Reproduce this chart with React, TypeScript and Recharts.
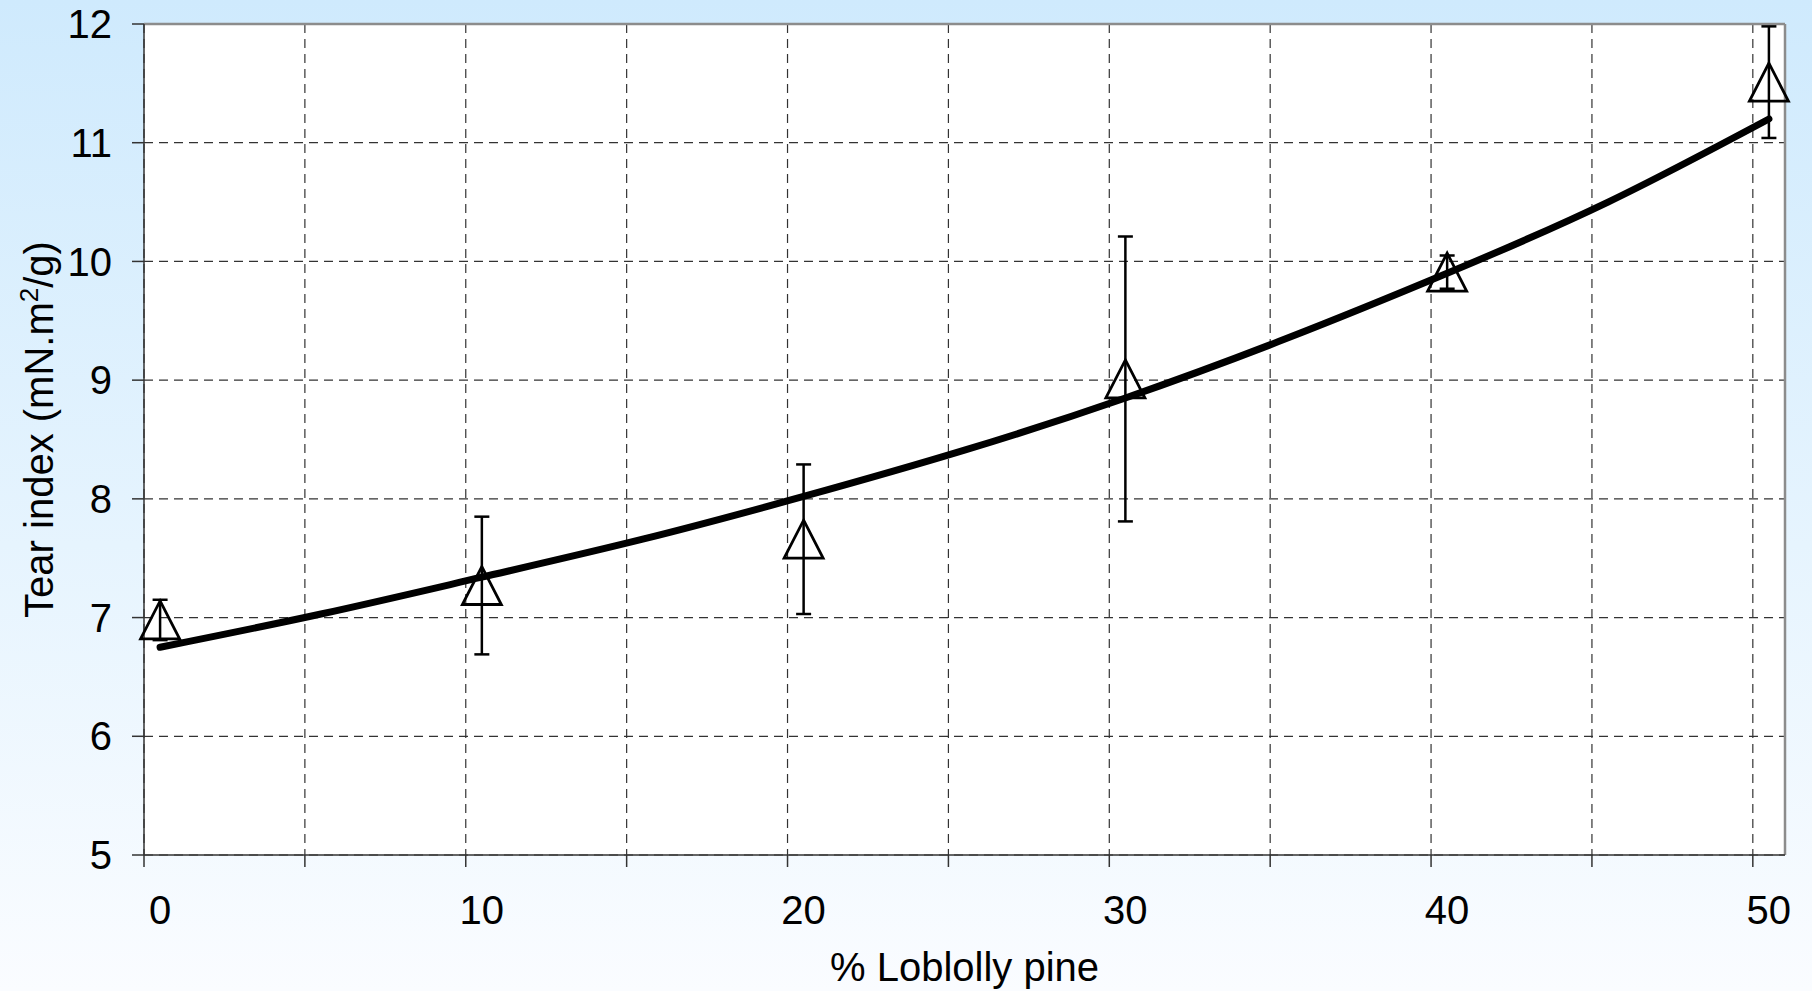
import {
  ComposedChart,
  Line,
  Scatter,
  ErrorBar,
  XAxis,
  YAxis,
  CartesianGrid,
  ReferenceLine,
} from "recharts";

// blend ratio (% loblolly pine) for each measured sheet set
const blendPct = [0, 10, 20, 30, 40, 50];
// mean tear index and standard deviation, mN.m2/g
const tearMean = [6.98, 7.27, 7.66, 9.01, 9.91, 11.51];
const tearSd = [0.17, 0.58, 0.63, 1.2, 0.14, 0.47];

// trend line through the means
const fitPct = [0, 5, 10, 15, 20, 25, 30, 35, 40, 45, 50];
const fitTear = [6.75, 7.03, 7.34, 7.66, 8.02, 8.41, 8.85, 9.35, 9.9, 10.5, 11.2];

// gridlines sit half a step before the blend values
const xGridTicks = [-0.5, 4.5, 9.5, 14.5, 19.5, 24.5, 29.5, 34.5, 39.5, 44.5, 49.5];
const yTicks = [5, 6, 7, 8, 9, 10, 11, 12];

const points = blendPct.map((x, i) => ({ x, tear: tearMean[i], sd: tearSd[i] }));
const trend = fitPct.map((x, i) => ({ x, fit: fitTear[i] }));

const FONT = "'Liberation Sans', Arial, Helvetica, sans-serif";
const HALF_STEP = 16;

const Triangle = (props: any) => {
  const { cx, cy } = props;
  if (cx == null || cy == null) return <g />;
  return (
    <path
      d={`M${cx},${cy - 19} L${cx + 19.5},${cy + 19} L${cx - 19.5},${cy + 19} Z`}
      fill="none"
      stroke="#000"
      strokeWidth={2.8}
      strokeLinejoin="miter"
    />
  );
};

const XTick = (props: any) => {
  const { x, y, payload } = props;
  const pct = Math.round(payload.value + 0.5);
  if (pct % 10 !== 0) return <g />;
  return (
    <text x={x + HALF_STEP} y={y} dy={57} textAnchor="middle" fontSize={40} fill="#000">
      {pct}
    </text>
  );
};

const YTitle = (props: any) => {
  const vb = props.viewBox || { x: 0, y: 24, width: 144, height: 831 };
  const cx = vb.x + 53;
  const cy = vb.y + vb.height / 2 - 10;
  return (
    <text
      transform={`translate(${cx},${cy}) rotate(-90)`}
      textAnchor="middle"
      fontSize={40}
      fill="#000"
    >
      Tear index (mN.m
      <tspan dy={-15} fontSize={26}>
        2
      </tspan>
      <tspan dy={15}>/g)</tspan>
    </text>
  );
};

export default function App() {
  return (
    <div
      style={{
        position: "absolute",
        left: 0,
        top: 0,
        width: 1812,
        height: 991,
        background: "linear-gradient(to bottom, #cfeafd 0%, #e6f4fe 55%, #fafcff 100%)",
        fontFamily: FONT,
      }}
    >
      <ComposedChart
        width={1812}
        height={991}
        margin={{ top: 24, right: 27, bottom: 0, left: 0 }}
      >
        <CartesianGrid stroke="#333" strokeWidth={1.2} strokeDasharray="9 6" fill="#fff" />
        <XAxis
          dataKey="x"
          type="number"
          domain={[-0.5, 50.5]}
          ticks={xGridTicks}
          height={136}
          tickSize={12}
          tickMargin={0}
          stroke="#333"
          strokeWidth={1.5}
          tick={<XTick />}
          interval={0}
          label={{
            value: "% Loblolly pine",
            position: "insideBottom",
            offset: 10,
            fontSize: 40,
            fill: "#000",
          }}
        />
        <YAxis
          type="number"
          domain={[5, 12]}
          ticks={yTicks}
          width={144}
          tickSize={12}
          tickMargin={20}
          stroke="#333"
          strokeWidth={1.5}
          tick={{ fontSize: 40, fill: "#000" }}
          interval={0}
          label={YTitle}
        />
        <ReferenceLine y={12} stroke="#8c8c8c" strokeWidth={2.5} />
        <ReferenceLine x={50.5} stroke="#8c8c8c" strokeWidth={2.5} />
        <Line
          data={trend}
          dataKey="fit"
          type="natural"
          stroke="#000"
          strokeWidth={7}
          strokeLinecap="round"
          dot={false}
          activeDot={false}
          isAnimationActive={false}
        />
        <Scatter data={points} dataKey="tear" shape={<Triangle />} isAnimationActive={false}>
          <ErrorBar
            dataKey="sd"
            direction="y"
            width={7.5}
            stroke="#000"
            strokeWidth={2.5}
            isAnimationActive={false}
          />
        </Scatter>
      </ComposedChart>
    </div>
  );
}
